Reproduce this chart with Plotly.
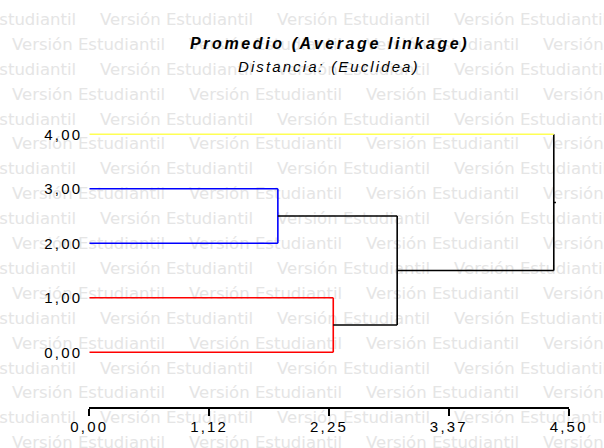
import plotly.graph_objects as go

# ---------------- data ----------------
leaf_pos = [0, 1, 2, 3, 4]
leaf_ticktext = ["0,00", "1,00", "2,00", "3,00", "4,00"]
leaf_colors = ["#ff0000", "#ff0000", "#0000ff", "#0000ff", "#ffff55"]
# merges (node ids: leaves 0-4, merges 5..8 in order)
merge_left = [0, 2, 5, 7]
merge_right = [1, 3, 6, 4]
merge_height = [2.29, 1.77, 2.89, 4.36]
x_tickvals = [0, 1.125, 2.25, 3.375, 4.5]
x_ticktext = ["0,00", "1,12", "2,25", "3,37", "4,50"]
title_text = "Promedio (Average linkage)"
subtitle_text = "Distancia: (Euclidea)"
watermark_text = "Versión Estudiantil"

W, H = 604, 448
FONT = "Liberation Sans, Arial, sans-serif"

def sp(t, ls):
    return '<span style="letter-spacing:%spx">%s</span>' % (ls, t)

# ---------------- dendrogram geometry ----------------
n_leaf = len(leaf_pos)
node_y = list(leaf_pos)
node_h = [0.0] * n_leaf
for l, r, h in zip(merge_left, merge_right, merge_height):
    node_y.append((node_y[l] + node_y[r]) / 2.0)
    node_h.append(h)

segs = {}
def add(color, xs, ys):
    segs.setdefault(color, ([], []))
    segs[color][0].extend(xs + [None])
    segs[color][1].extend(ys + [None])

for l, r, h in zip(merge_left, merge_right, merge_height):
    for c in (l, r):
        col = leaf_colors[c] if c < n_leaf else "#000000"
        add(col, [node_h[c], h], [node_y[c], node_y[c]])
    if l < n_leaf and r < n_leaf and leaf_colors[l] == leaf_colors[r]:
        vcol = leaf_colors[l]
    else:
        vcol = "#000000"
    add(vcol, [h, h], [node_y[l], node_y[r]])
# tiny root stem
root = len(node_y) - 1
add("#000000", [node_h[root], node_h[root] + 0.02], [node_y[root], node_y[root]])

fig = go.Figure()

# ---------------- watermark (pixel coordinate background subplot) ----------------
wx, wy = [], []
for k in range(18):
    base = 26.6 + 24.9 * k
    start = -77 if k % 2 == 0 else 12
    for i in range(5):
        xx = start + 177 * i
        if xx < W:
            wx.append(xx)
            wy.append(base - 5.8)
fig.add_trace(go.Scatter(
    x=wx, y=wy, mode="text", text=[watermark_text] * len(wx),
    textposition="middle right",
    textfont=dict(family="DejaVu Sans", size=16.5, color="#e5e5e5"),
    hoverinfo="skip", showlegend=False, xaxis="x", yaxis="y", cliponaxis=True))

# ---------------- dendrogram ----------------
for col, (xs, ys) in segs.items():
    fig.add_trace(go.Scatter(x=xs, y=ys, mode="lines",
                             line=dict(color=col, width=1.6),
                             hoverinfo="skip", showlegend=False,
                             xaxis="x2", yaxis="y2"))

x0p, x1p = 89.3, 568.7
yb_px = 406.8
ytop_val = 4.4
unit = 54.5
ytop_px = yb_px - (ytop_val + 1) * unit

fig.update_layout(
    template="none",
    width=W, height=H,
    margin=dict(l=0, r=0, t=0, b=0, pad=0, autoexpand=False),
    paper_bgcolor="white", plot_bgcolor="rgba(0,0,0,0)",
    showlegend=False,
    xaxis=dict(domain=[0, 1], range=[0, W], visible=False, fixedrange=True, automargin=False),
    yaxis=dict(domain=[0, 1], range=[H, 0], visible=False, fixedrange=True, automargin=False),
    xaxis2=dict(domain=[x0p / W, x1p / W], range=[0, 4.5], anchor="y2",
                automargin=False,
                showgrid=False, zeroline=False, showline=True,
                linecolor="black", linewidth=1.5,
                ticks="outside", ticklen=7, tickwidth=1.5, tickcolor="black",
                tickmode="array", tickvals=x_tickvals,
                ticktext=[sp(t, 2.2) for t in x_ticktext],
                ticklabelstandoff=-2,
                tickfont=dict(family=FONT, size=15, color="black")),
    yaxis2=dict(domain=[(H - yb_px) / H, (H - ytop_px) / H],
                range=[-1, ytop_val], anchor="x2",
                automargin=False,
                showgrid=False, zeroline=False, showline=False, ticks="",
                tickmode="array", tickvals=leaf_pos,
                ticktext=[sp(t, 2.2) for t in leaf_ticktext],
                ticklabelstandoff=6,
                tickfont=dict(family=FONT, size=15, color="black")),
    annotations=[
        dict(text=sp(title_text, 2.6), x=329.3 / W, y=(H - 44) / H,
             xref="paper", yref="paper", xanchor="center", yanchor="middle",
             showarrow=False,
             font=dict(family=FONT, size=16, color="black", weight="bold", style="italic")),
        dict(text=sp(subtitle_text, 2.1), x=329 / W, y=(H - 66) / H,
             xref="paper", yref="paper", xanchor="center", yanchor="middle",
             showarrow=False,
             font=dict(family=FONT, size=15, color="black", style="italic")),
    ],
)

fig.write_html("out.html")
